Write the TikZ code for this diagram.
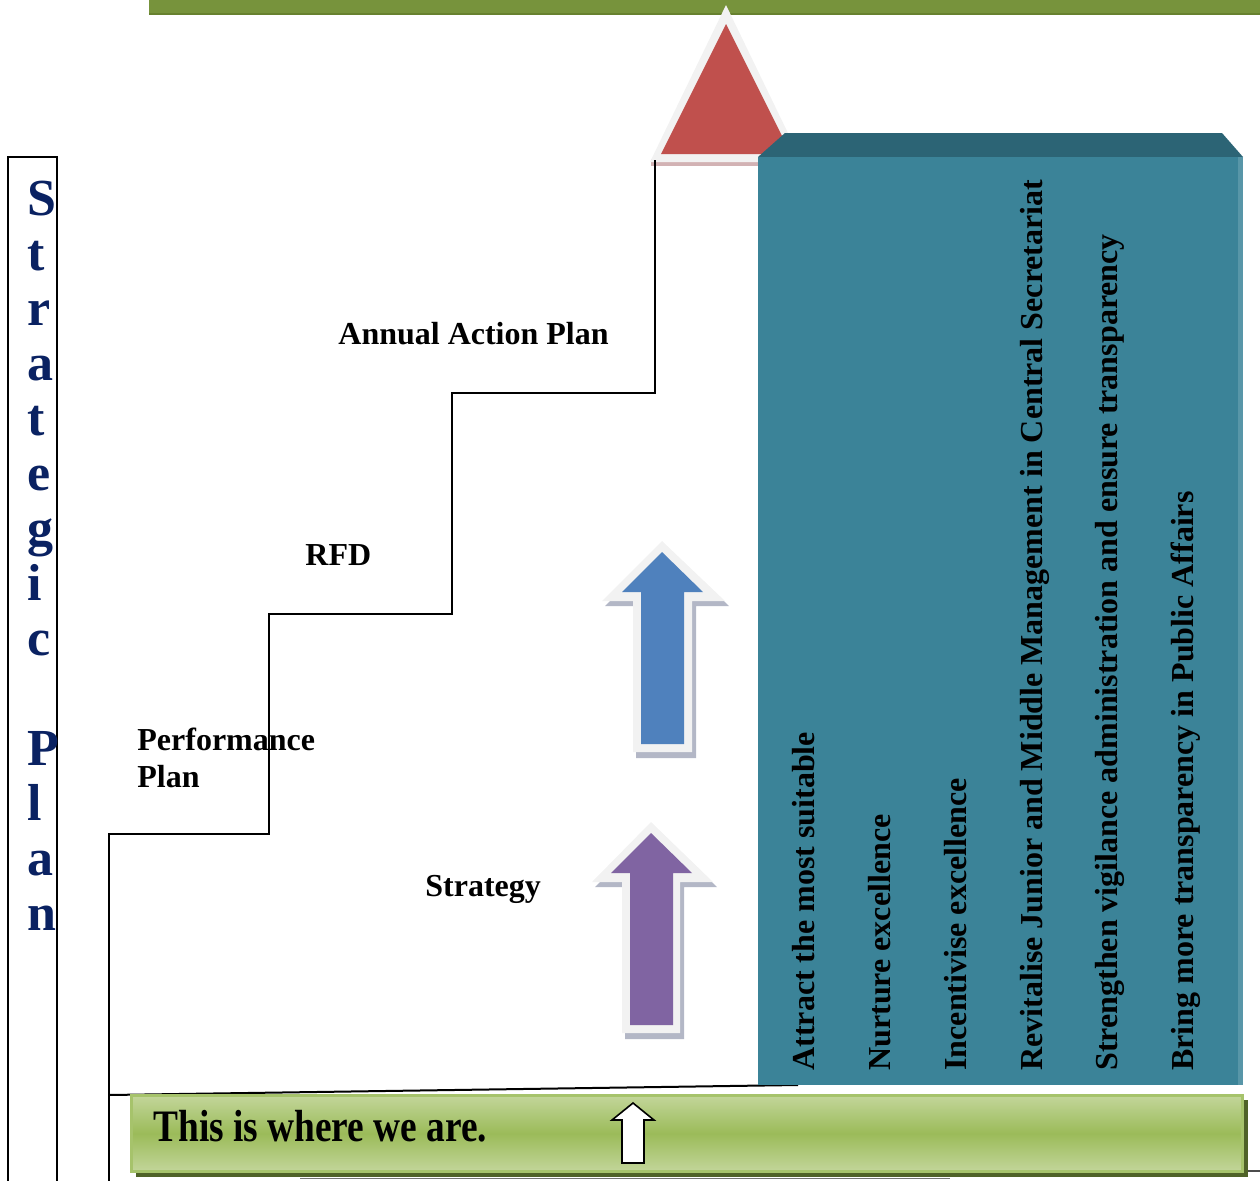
\documentclass[tikz,border=0pt]{standalone}
\usepackage{fontspec}
\setmainfont{Liberation Serif}
\usetikzlibrary{calc}
\definecolor{topgreen}{HTML}{77933C}
\definecolor{topgreendk}{HTML}{67812F}
\definecolor{tealfront}{HTML}{3B8398}
\definecolor{tealtop}{HTML}{2C6475}
\definecolor{redtri}{HTML}{C0504D}
\definecolor{pale}{HTML}{F2F2F2}
\definecolor{shadowhatch}{HTML}{B3B7C6}
\definecolor{redshadow}{HTML}{D2B2B4}
\definecolor{bluearr}{HTML}{4F81BD}
\definecolor{purplearr}{HTML}{8064A2}
\definecolor{navy}{RGB}{10,34,98}
\definecolor{barlight}{HTML}{C3D69B}
\definecolor{barmid}{HTML}{9BBB59}
\definecolor{barborder}{HTML}{A6C36B}
\definecolor{barshadow}{HTML}{4F6228}
\begin{document}
\begin{tikzpicture}[x=0.5pt,y=-0.5pt,
  lbl/.style={inner sep=0pt, anchor=base west, font=\bfseries\fontsize{16}{18.5}\selectfont},
  goal/.style={inner sep=0pt, anchor=base west, rotate=90, font=\bfseries\fontsize{16}{18}\selectfont},
  spl/.style={inner sep=0pt, anchor=base west, text=navy, font=\bfseries\fontsize{26}{28}\selectfont},
  stair/.style={draw=black, line width=1pt},
]
\useasboundingbox (0,0) rectangle (1260,1180);
% top green bar
\fill[topgreen] (149,-5) rectangle (1265,14);
\draw[topgreendk, line width=1pt] (149,13.5) -- (1265,13.5);
% triangle
\fill[redshadow] (651,159) rectangle (762,166);
\fill[pale] (726,5) -- (802,162) -- (650,162) -- cycle;
\fill[redtri] (726,24) -- (791,154) -- (661,154) -- cycle;
% staircase
\coordinate (s0) at (109,1185);
\coordinate (s1) at (109,834);
\coordinate (s2) at (269,834);
\coordinate (s3) at (269,614);
\coordinate (s4) at (452,614);
\coordinate (s5) at (452,393);
\coordinate (s6) at (655,393);
\coordinate (s7) at (655,160);
\draw[stair] (s0) -- (s1) -- (s2) -- (s3) -- (s4) -- (s5) -- (s6) -- (s7);
\coordinate (b0) at (109,1095);
\coordinate (b1) at (798,1085);
\draw[stair] (b0) -- (b1);
% strategic plan box
\draw[black, line width=1.1pt] (8,1190) -- (8,157) -- (57,157) -- (57,1190);
\foreach \ch/\yy [count=\i] in {S/215,t/270,r/325,a/380,t/435,e/490,g/545,i/600,c/655,P/765,l/820,a/875,n/930}
  \node[spl] (sp\i) at (27,\yy) {\ch};
% teal box
\fill[tealtop] (758,157) -- (785,133) -- (1222,133) -- (1243,157) -- cycle;
\fill[tealfront] (758,157) rectangle (1243,1085);
\fill[tealfront!85!white] (1238,157) rectangle (1243,1085);
% goals
\node[goal] (g1) at (814,1071) {Attract the most suitable};
\node[goal] (g2) at (890,1071) {Nurture excellence};
\node[goal] (g3) at (966,1071) {Incentivise excellence};
\node[goal] (g4) at (1042,1071) {Revitalise Junior and Middle Management in Central Secretariat};
\node[goal] (g5) at (1117,1071) {Strengthen vigilance administration and ensure transparency};
\node[goal] (g6) at (1193,1071) {Bring more transparency in Public Affairs};
% blue arrow
\fill[shadowhatch] (666,546) -- (729,606) -- (696,606) -- (696,758) -- (636,758) -- (636,606) -- (605,606) -- cycle;
\fill[pale] (662,541) -- (725,601) -- (692,601) -- (692,752) -- (633,752) -- (633,601) -- (602,601) -- cycle;
\fill[bluearr] (662,552) -- (703,592) -- (684,592) -- (684,744) -- (641,744) -- (641,592) -- (622,592) -- cycle;
% purple arrow
\fill[shadowhatch] (655,827) -- (717,887) -- (684,887) -- (684,1039) -- (625,1039) -- (625,887) -- (595,887) -- cycle;
\fill[pale] (651,822) -- (713,882) -- (680,882) -- (680,1033) -- (622,1033) -- (622,882) -- (592,882) -- cycle;
\fill[purplearr] (651,833) -- (692,873) -- (673,873) -- (673,1025) -- (630,1025) -- (630,873) -- (611,873) -- cycle;
% labels
\node[lbl] (aap) at (338,344) {Annual Action Plan};
\node[lbl] (rfd) at (305,565) {RFD};
\node[lbl, align=left] (pp) at (137,787) {Performance\\Plan};
\node[lbl] (str) at (425,896) {Strategy};
% bottom bar
\fill[barshadow] (136,1100) rectangle (1248,1177);
\shade[top color=barlight, bottom color=barlight, middle color=barmid] (131,1095) rectangle (1243,1172);
\draw[barborder, line width=1.2pt] (131.5,1095.5) rectangle (1242.5,1171.5);
\draw[black!70, line width=0.6pt] (1248,1171) -- (1262,1171);
\draw[black!55, line width=0.8pt] (300,1178.5) -- (950,1178.5);
\node[inner sep=0pt, anchor=base west, font=\bfseries\fontsize{22.5}{24}\selectfont] (here) at (153,1141) {\scalebox{0.83}[1]{This is where we are.}};
\draw[black, fill=white, line width=0.8pt] (633,1103) -- (654,1120) -- (644,1120) -- (644,1163) -- (622,1163) -- (622,1120) -- (612,1120) -- cycle;
\end{tikzpicture}
\end{document}
